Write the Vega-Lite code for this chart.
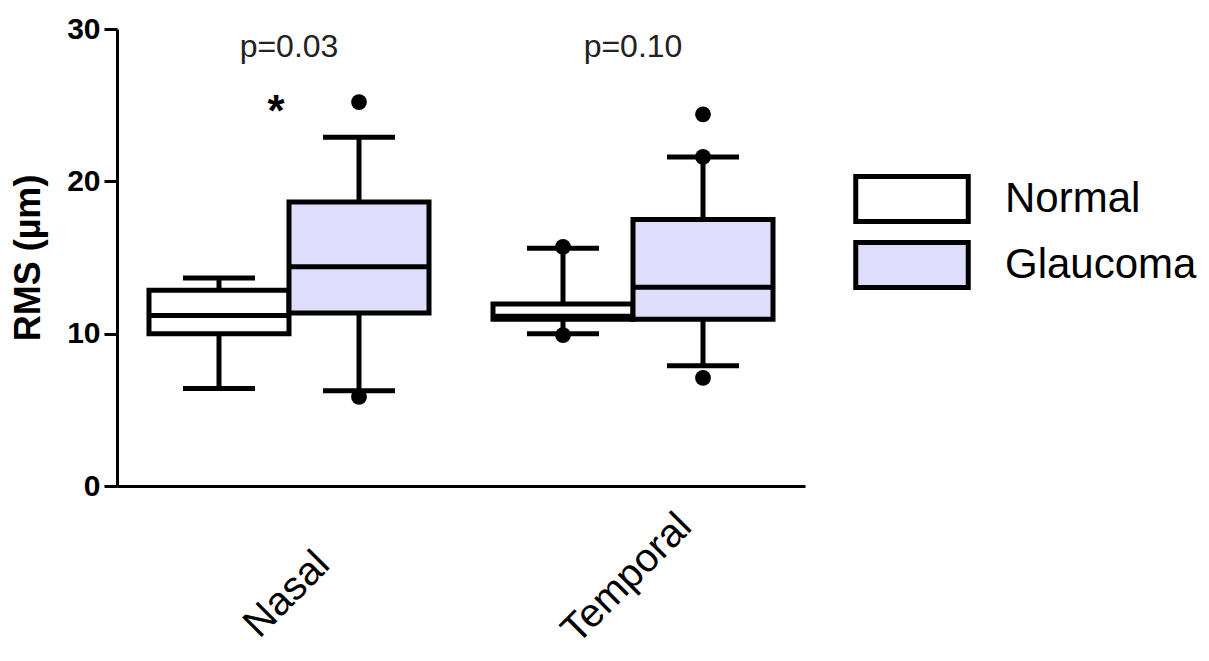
{
  "$schema": "https://vega.github.io/schema/vega-lite/v6.json",
  "autosize": {"type": "none"},
  "padding": {"left": 117, "top": 29, "right": 404, "bottom": 175},
  "width": 688,
  "height": 457,
  "background": "white",
  "config": {
    "view": {"stroke": null},
    "font": "Liberation Sans"
  },
  "datasets": {
    "boxes": [
      {"region": "Nasal", "group": "Normal", "lower": 6.4, "q1": 10.0, "median": 11.2, "q3": 12.85, "upper": 13.65},
      {"region": "Nasal", "group": "Glaucoma", "lower": 6.25, "q1": 11.35, "median": 14.4, "q3": 18.65, "upper": 22.9},
      {"region": "Temporal", "group": "Normal", "lower": 10.0, "q1": 10.95, "median": 11.15, "q3": 11.95, "upper": 15.6},
      {"region": "Temporal", "group": "Glaucoma", "lower": 7.9, "q1": 10.95, "median": 13.05, "q3": 17.5, "upper": 21.6}
    ],
    "outliers": [
      {"region": "Nasal", "group": "Glaucoma", "value": 25.2},
      {"region": "Nasal", "group": "Glaucoma", "value": 5.85},
      {"region": "Temporal", "group": "Normal", "value": 15.7},
      {"region": "Temporal", "group": "Normal", "value": 9.9},
      {"region": "Temporal", "group": "Glaucoma", "value": 24.4},
      {"region": "Temporal", "group": "Glaucoma", "value": 21.6},
      {"region": "Temporal", "group": "Glaucoma", "value": 7.1}
    ],
    "pvalues": [
      {"region": "Nasal", "y": 28.8, "label": "p=0.03"},
      {"region": "Temporal", "y": 28.8, "label": "p=0.10"}
    ],
    "stars": [
      {"region": "Nasal", "group": "Normal", "y": 24.5, "label": "*"}
    ]
  },
  "encoding": {
    "x": {
      "field": "region", "type": "nominal",
      "scale": {"domain": ["Nasal", "Temporal"], "paddingInner": 0.186, "paddingOuter": 0.093},
      "axis": {
        "title": null, "domainColor": "black", "domainWidth": 3, "ticks": false,
        "labelAngle": -45, "labelAlign": "center", "labelBaseline": "middle",
        "labelFontSize": 40, "labelColor": "black",
        "labelPadding": {"condition": {"test": "datum.value === 'Nasal'", "value": 108}, "value": 92},
        "labelOffset": {"condition": {"test": "datum.value === 'Nasal'", "value": -2}, "value": -6}
      }
    }
  },
  "layer": [
    {
      "data": {"name": "boxes"},
      "mark": {"type": "rule", "color": "black", "strokeWidth": 5},
      "encoding": {
        "xOffset": {"field": "group", "type": "nominal", "scale": {"domain": ["Normal", "Glaucoma"], "paddingInner": 0, "paddingOuter": 0}},
        "y": {
          "field": "lower", "type": "quantitative",
          "scale": {"domain": [0, 30], "nice": false, "zero": true},
          "axis": {
            "title": "RMS (µm)", "values": [0, 10, 20, 30], "grid": false,
            "domainColor": "black", "domainWidth": 3, "tickColor": "black", "tickWidth": 3, "tickSize": 13,
            "labelFontSize": 30, "labelFontWeight": "bold", "labelColor": "black", "labelPadding": 4,
            "titleFontSize": 36, "titleFontWeight": "bold", "titleColor": "black", "titlePadding": 19
          }
        },
        "y2": {"field": "upper"}
      }
    },
    {
      "data": {"name": "boxes"},
      "mark": {"type": "bar", "stroke": "black", "strokeWidth": 5},
      "encoding": {
        "xOffset": {"field": "group", "type": "nominal"},
        "y": {"field": "q1", "type": "quantitative"},
        "y2": {"field": "q3"},
        "fill": {
          "field": "group", "type": "nominal",
          "scale": {"domain": ["Normal", "Glaucoma"], "range": ["#ffffff", "#dedefc"]},
          "legend": {
            "title": null, "orient": "none", "legendX": 770, "legendY": 145, "padding": 0,
            "symbolType": "M-2.5,-1L2.5,-1L2.5,1L-2.5,1Z", "symbolSize": 2025,
            "symbolStrokeColor": "black", "symbolStrokeWidth": 5, "symbolOpacity": 1,
            "labelFontSize": 42, "labelColor": "black", "labelOffset": 68, "labelLimit": 400, "rowPadding": 0
          }
        }
      }
    },
    {
      "data": {"name": "boxes"},
      "mark": {"type": "tick", "color": "black", "size": 140, "thickness": 5, "opacity": 1},
      "encoding": {
        "xOffset": {"field": "group", "type": "nominal"},
        "y": {"field": "median", "type": "quantitative"}
      }
    },
    {
      "data": {"name": "boxes"},
      "mark": {"type": "tick", "color": "black", "size": 72, "thickness": 5, "opacity": 1},
      "encoding": {
        "xOffset": {"field": "group", "type": "nominal"},
        "y": {"field": "lower", "type": "quantitative"}
      }
    },
    {
      "data": {"name": "boxes"},
      "mark": {"type": "tick", "color": "black", "size": 72, "thickness": 5, "opacity": 1},
      "encoding": {
        "xOffset": {"field": "group", "type": "nominal"},
        "y": {"field": "upper", "type": "quantitative"}
      }
    },
    {
      "data": {"name": "outliers"},
      "mark": {"type": "circle", "color": "black", "size": 250, "opacity": 1},
      "encoding": {
        "xOffset": {"field": "group", "type": "nominal"},
        "y": {"field": "value", "type": "quantitative"}
      }
    },
    {
      "data": {"name": "pvalues"},
      "mark": {"type": "text", "fontSize": 32, "color": "#222222", "baseline": "middle", "align": "center"},
      "encoding": {
        "y": {"field": "y", "type": "quantitative"},
        "text": {"field": "label"}
      }
    },
    {
      "data": {"name": "stars"},
      "mark": {"type": "text", "fontSize": 44, "fontWeight": "bold", "color": "black", "baseline": "middle", "align": "center", "dx": 57},
      "encoding": {
        "xOffset": {"field": "group", "type": "nominal"},
        "y": {"field": "y", "type": "quantitative"},
        "text": {"field": "label"}
      }
    }
  ]
}
